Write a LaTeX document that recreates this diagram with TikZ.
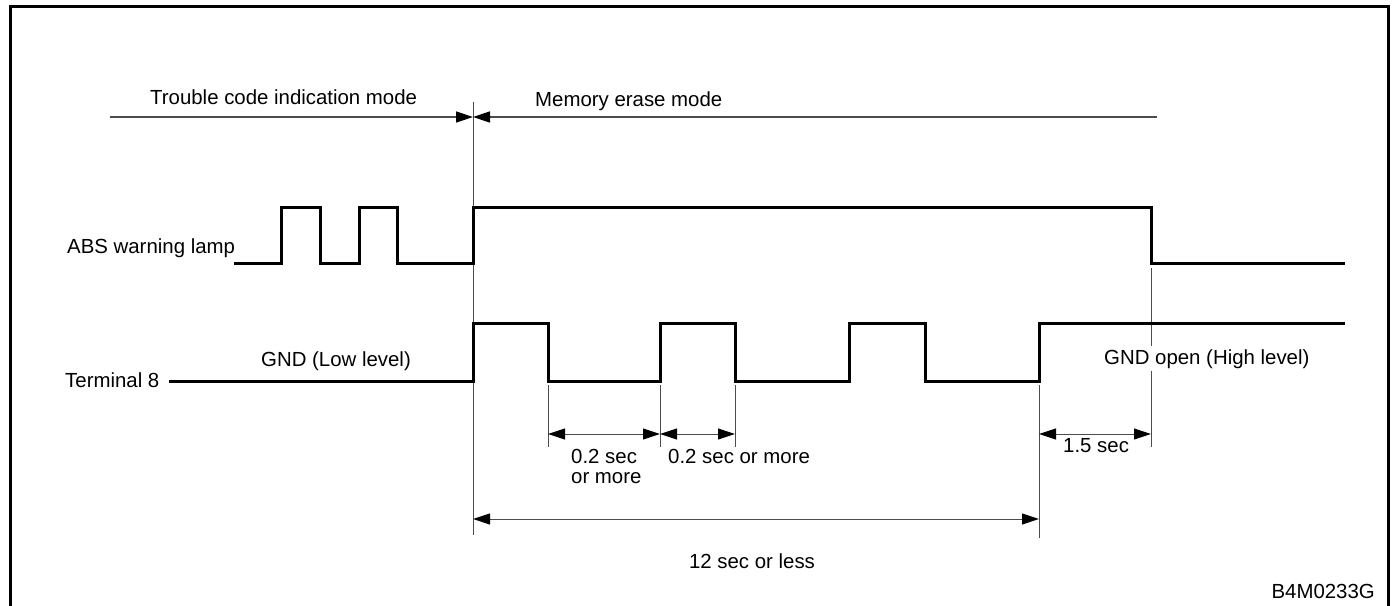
\documentclass[tikz,border=0pt]{standalone}
\usepackage{fontspec}
\setmainfont{Liberation Sans}
\usetikzlibrary{arrows.meta}
\begin{document}
\begin{tikzpicture}[x=1pt,y=-1pt,
  wave/.style={line width=3pt, line join=miter, draw=black},
  ext/.style={line width=1pt, draw=black!70},
  dim/.style={line width=1pt, draw=black!70, {Triangle[length=17pt,width=11pt,color=black]}-{Triangle[length=17pt,width=11pt,color=black]}},
  lbl/.style={font=\fontsize{20.4}{20}\selectfont, inner sep=0pt, anchor=base west},
]
\useasboundingbox (0,0) rectangle (1394,605);
% frame
\draw[line width=3pt] (10.5,606) -- (10.5,6.5) -- (1388.5,6.5) -- (1388.5,606);

% key coordinates
\coordinate (mL) at (110,117);
\coordinate (mC) at (473,117);
\coordinate (mR) at (1157,117);
\coordinate (dTop) at (473,102);
\coordinate (dBot) at (473,535);

% mode line
\draw[line width=1.5pt, draw=black!70, -{Triangle[length=17pt,width=11pt,color=black]}] (mL) -- (mC);
\draw[line width=1.5pt, draw=black!70, {Triangle[length=17pt,width=11pt,color=black]}-] (mC) -- (mR);
\draw[ext] (dTop) -- (dBot);

% labels
\node[lbl] (tcim) at (150,104) {Trouble code indication mode};
\node[lbl] (mem) at (535,106) {Memory erase mode};
\node[lbl] (abs) at (67,253) {ABS warning lamp};
\node[lbl] (t8) at (65,387) {Terminal 8};
\node[lbl] (gndlow) at (261,366) {GND (Low level)};
\node[lbl] (code) [anchor=base east] at (1375,598) {B4M0233G};

% extension lines
\coordinate (e1t) at (548,385); \coordinate (e1b) at (548,447);
\coordinate (e2t) at (660,385); \coordinate (e2b) at (660,447);
\coordinate (e3t) at (735,385); \coordinate (e3b) at (735,447);
\coordinate (e4t) at (1039,385); \coordinate (e4b) at (1039,538);
\coordinate (e5t) at (1151,268); \coordinate (e5b) at (1151,447);
\draw[ext] (e1t) -- (e1b);
\draw[ext] (e2t) -- (e2b);
\draw[ext] (e3t) -- (e3b);
\draw[ext] (e4t) -- (e4b);
\draw[ext] (e5t) -- (e5b);

\node[lbl, fill=white, inner xsep=1pt, inner ysep=3pt] (gndhigh) at (1103,364) {GND open (High level)};

% lamp waveform
\draw[wave] (234,263) -- (281,263) -- (281,207) -- (320,207) -- (320,263) -- (359,263) -- (359,207) -- (397,207) -- (397,263) -- (473,263) -- (473,207) -- (1151,207) -- (1151,263) -- (1345,263);

% terminal 8 waveform
\draw[wave] (169,381) -- (473,381) -- (473,323) -- (548,323) -- (548,381) -- (660,381) -- (660,323) -- (735,323) -- (735,381) -- (849,381) -- (849,323) -- (925,323) -- (925,381) -- (1039,381) -- (1039,323) -- (1345,323);

% dimensions
\coordinate (a1) at (548,434); \coordinate (a2) at (660,434);
\coordinate (a3) at (735,434);
\coordinate (a4) at (1039,434); \coordinate (a5) at (1151,434);
\coordinate (b1) at (473,519); \coordinate (b2) at (1039,519);
\draw[dim] (a1) -- (a2);
\draw[dim] (a2) -- (a3);
\draw[dim] (a4) -- (a5);
\draw[dim] (b1) -- (b2);

\node[lbl, align=left] (d1) at (571,483) {0.2 sec\\or more};
\node[lbl] (d2) at (668,463) {0.2 sec or more};
\node[lbl] (d3) at (1063,452) {1.5 sec};
\node[lbl, anchor=base] (d4) at (752,568) {12 sec or less};
\end{tikzpicture}
\end{document}
